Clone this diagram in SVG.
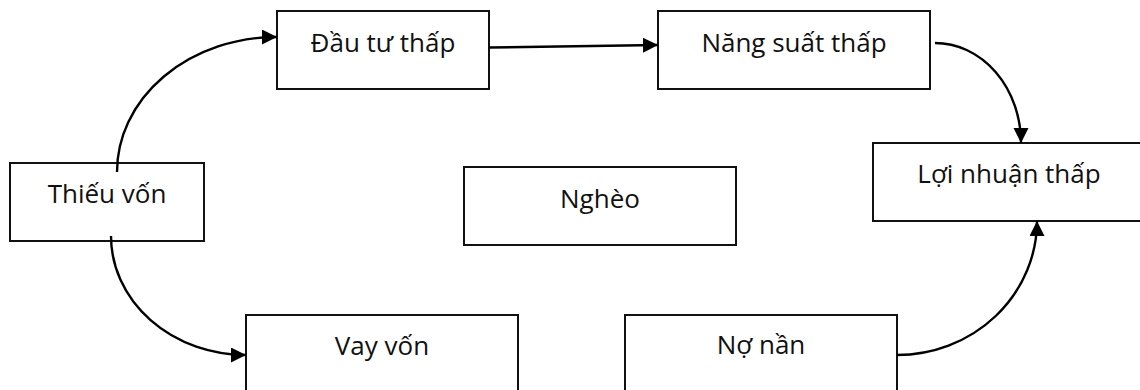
<svg xmlns="http://www.w3.org/2000/svg" width="1140" height="390" viewBox="0 0 1140 390">
<style>
.box{fill:#fff;stroke:#111;stroke-width:2}
.lbl{font-family:"Open Sans","Noto Sans","DejaVu Sans",sans-serif;font-size:26px;fill:#111;text-anchor:middle}
.con{fill:none;stroke:#000;stroke-width:2.4}
</style>
<defs>
<marker id="ah" markerUnits="userSpaceOnUse" markerWidth="16" markerHeight="16" refX="15" refY="7.5" orient="auto">
<path d="M0,0 L15,7.5 L0,15 z" fill="#000"/>
</marker>
</defs>
<rect width="1140" height="390" fill="#fff"/>
<g id="n-dautu"><rect class="box" x="277" y="11" width="212" height="78"/><text class="lbl" x="383" y="52">Đầu tư thấp</text></g>
<g id="n-nangsuat"><rect class="box" x="658" y="11" width="272" height="78"/><text class="lbl" x="794" y="52">Năng suất thấp</text></g>
<g id="n-loinhuan"><rect class="box" x="873" y="143" width="272" height="78"/><text class="lbl" x="1009" y="183">Lợi nhuận thấp</text></g>
<g id="n-thieuvon"><rect class="box" x="10" y="163" width="194" height="78"/><text class="lbl" x="107" y="203">Thiếu vốn</text></g>
<g id="n-ngheo"><rect class="box" x="464" y="167" width="272" height="78"/><text class="lbl" x="600" y="208">Nghèo</text></g>
<g id="n-vayvon"><rect class="box" x="246" y="315" width="272" height="100"/><text class="lbl" x="382" y="355">Vay vốn</text></g>
<g id="n-non"><rect class="box" x="625" y="315" width="272" height="100"/><text class="lbl" x="761" y="354">Nợ nần</text></g>
<g id="connectors">
<path class="con" d="M117,172 A160,135 0 0 1 277,37" marker-end="url(#ah)"/>
<path class="con" d="M489,47.5 L658,45" marker-end="url(#ah)"/>
<path class="con" d="M935,43 A86,100 0 0 1 1021,143" marker-end="url(#ah)"/>
<path class="con" d="M111,236 A135,119 0 0 0 246,355" marker-end="url(#ah)"/>
<path class="con" d="M897,355 A140,134 0 0 0 1037,221" marker-end="url(#ah)"/>
</g>
</svg>
